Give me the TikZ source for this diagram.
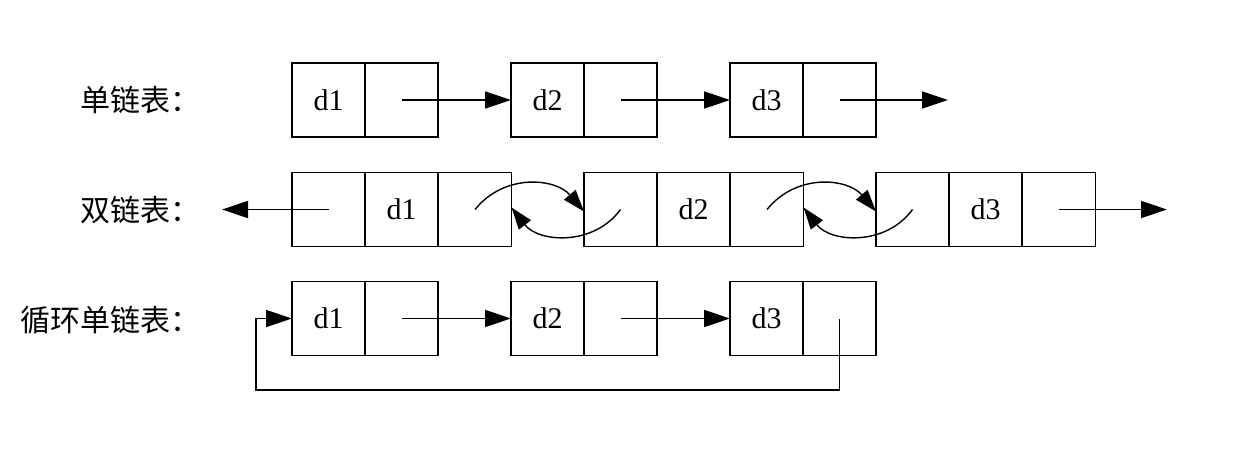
\documentclass[tikz,border=0pt]{standalone}
\usepackage{fontspec}
\setmainfont{Liberation Serif}
\newfontfamily\cjk{Noto Sans CJK SC}
\usetikzlibrary{arrows.meta}
\begin{document}
\begin{tikzpicture}[x=1pt,y=-1pt,
  cell/.style={draw=black,line width=1.8pt,minimum width=73pt,minimum height=74pt,inner sep=0pt,outer sep=0pt,font=\fontsize{30}{30}\selectfont},
  lbl/.style={font=\cjk\fontsize{30}{30}\selectfont,anchor=west,inner sep=0pt},
  arr/.style={line width=1.4pt,-{Triangle[length=26pt,width=17pt]}},
  carr/.style={line width=1.4pt,-{Triangle[length=22pt,width=15pt]}}]
\useasboundingbox (0,0) rectangle (1245,465);
\fill[white] (0,0) rectangle (1245,465);
% labels
\node[lbl] (L1) at (80,100) {单链表：};
\node[lbl] (L2) at (80,210) {双链表：};
\node[lbl] (L3) at (20,320) {循环单链表：};
% row 1
\node[cell] (a1) at (328.5,100) {d1};
\node[cell] (a1p) at (401.5,100) {};
\node[cell] (a2) at (547.5,100) {d2};
\node[cell] (a2p) at (620.5,100) {};
\node[cell] (a3) at (766.5,100) {d3};
\node[cell] (a3p) at (839.5,100) {};
\coordinate (a4) at (948,100);
\draw[arr] (a1p.center) -- (a2.west);
\draw[arr] (a2p.center) -- (a3.west);
\draw[arr] (a3p.center) -- (a4);
% row 2
\node[cell] (b1l) at (328.5,209.5) {};
\node[cell] (b1) at (401.5,209.5) {d1};
\node[cell] (b1r) at (475,209.5) {};
\node[cell] (b2l) at (620.5,209.5) {};
\node[cell] (b2) at (693.5,209.5) {d2};
\node[cell] (b2r) at (767,209.5) {};
\node[cell] (b3l) at (912.5,209.5) {};
\node[cell] (b3) at (985.5,209.5) {d3};
\node[cell] (b3r) at (1059,209.5) {};
\coordinate (b0) at (222,209.5);
\coordinate (b4) at (1167,209.5);
\draw[arr] (b1l.center) -- (b0);
\draw[arr] (b3r.center) -- (b4);
\draw[carr] (b1r.center) .. controls +(30,-37) and +(-28,-33) .. ([yshift=-2pt]b2l.west);
\draw[carr] (b2l.center) .. controls +(-27,37) and +(27,35) .. ([yshift=2pt]b1r.east);
\draw[carr] (b2r.center) .. controls +(30,-37) and +(-28,-33) .. ([yshift=-2pt]b3l.west);
\draw[carr] (b3l.center) .. controls +(-27,37) and +(27,35) .. ([yshift=2pt]b2r.east);
% row 3
\node[cell] (c1) at (328.5,318.5) {d1};
\node[cell] (c1p) at (401.5,318.5) {};
\node[cell] (c2) at (547.5,318.5) {d2};
\node[cell] (c2p) at (620.5,318.5) {};
\node[cell] (c3) at (766.5,318.5) {d3};
\node[cell] (c3p) at (839.5,318.5) {};
\coordinate (cl) at (256,390);
\draw[arr] (c1p.center) -- (c2.west);
\draw[arr] (c2p.center) -- (c3.west);
\draw[arr] (c3p.center) |- (cl) |- (c1.west);
\end{tikzpicture}
\end{document}
